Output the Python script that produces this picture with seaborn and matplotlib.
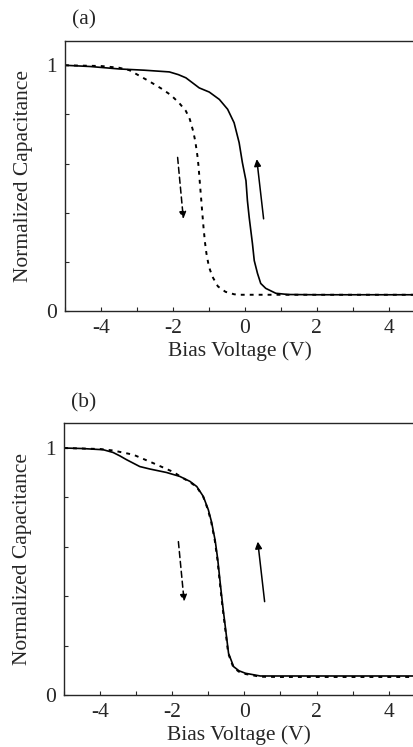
import numpy as np
import pandas as pd
import matplotlib
matplotlib.use("Agg")
import matplotlib.pyplot as plt
import seaborn as sns

# ---- data ----
a_up_v = [-5, -4.3, -3.49, -2.8, -2.10, -1.85, -1.64, -1.45, -1.27, -0.99, -0.71, -0.48, -0.30, -0.16,
          -0.07, 0.03, 0.07, 0.12, 0.21, 0.26, 0.35, 0.44, 0.58, 0.86, 1.2, 2, 3, 4, 4.7]
a_up_c = [1.0, 0.995, 0.985, 0.98, 0.973, 0.962, 0.949, 0.928, 0.908, 0.891, 0.861, 0.821, 0.766, 0.685,
          0.604, 0.53, 0.449, 0.38, 0.274, 0.205, 0.153, 0.112, 0.092, 0.072, 0.067, 0.066, 0.066, 0.066, 0.066]

a_dn_v = [-5, -4, -3.5, -3.21, -2.66, -2.33, -2.06, -1.83, -1.64, -1.53, -1.44, -1.38, -1.32, -1.29,
          -1.24, -1.19, -1.15, -1.11, -1.07, -1.0, -0.9, -0.75, -0.54, -0.3, -0.16, 0.5, 1, 2, 3, 4, 4.7]
a_dn_c = [1.0, 0.997, 0.99, 0.980, 0.935, 0.906, 0.879, 0.847, 0.814, 0.780, 0.733, 0.692, 0.632, 0.591,
          0.50, 0.41, 0.34, 0.28, 0.235, 0.18, 0.139, 0.10, 0.078, 0.068, 0.066, 0.066, 0.066, 0.066, 0.066, 0.066, 0.066]

b_up_v = [-5, -4.5, -3.91, -3.64, -3.45, -3.27, -2.9, -2.62, -2.16, -1.79, -1.51, -1.32, -1.14, -1.0,
          -0.91, -0.81, -0.74, -0.67, -0.60, -0.53, -0.44, -0.30, -0.15, 0.03, 0.44, 1, 2, 3, 4, 4.7]
b_up_c = [1.0, 0.998, 0.993, 0.982, 0.968, 0.953, 0.925, 0.915, 0.901, 0.885, 0.865, 0.844, 0.804, 0.75,
          0.70, 0.625, 0.55, 0.453, 0.36, 0.277, 0.169, 0.115, 0.098, 0.088, 0.077, 0.077, 0.077, 0.077, 0.077, 0.077]

b_dn_v = [-5, -4, -3.64, -3.08, -2.53, -1.97, -1.70, -1.51, -1.32, -1.14, -1.01,
          -0.92, -0.82, -0.75, -0.68, -0.61, -0.54, -0.45, -0.31, -0.16, 0.03, 0.44, 1, 2, 3, 4, 4.7]
b_dn_c = [1.0, 0.996, 0.99, 0.973, 0.939, 0.903, 0.878, 0.862, 0.842, 0.802, 0.75,
          0.70, 0.625, 0.55, 0.453, 0.36, 0.277, 0.169, 0.113, 0.095, 0.085, 0.074, 0.073, 0.073, 0.073, 0.073, 0.073]

# arrows: (start V, start C, end V, end C)
a_arrow_dn = [-1.87, 0.625, -1.71, 0.375]
a_arrow_up = [0.52, 0.375, 0.33, 0.618]
b_arrow_dn = [-1.83, 0.621, -1.67, 0.378]
b_arrow_up = [0.56, 0.378, 0.37, 0.621]

x_ticks = [-5, -4, -3, -2, -1, 0, 1, 2, 3, 4]
x_labels = ["", "-4", "", "-2", "", "0", "", "2", "", "4"]
y_ticks = [0, 0.2, 0.4, 0.6, 0.8, 1.0]
y_labels = ["0", "", "", "", "", "1"]

sns.set_style("ticks")
plt.rcParams['font.family'] = ['Liberation Serif', 'DejaVu Serif']
plt.rcParams['font.size'] = 15.5

fig = plt.figure(figsize=(4.14, 7.47), dpi=100)
ax_a = fig.add_axes([0.157, 0.5837, 0.843, 0.3618])
ax_b = fig.add_axes([0.1546, 0.0696, 0.8454, 0.3637])

dotted = (0, (2.0, 2.6))

def draw(ax, up_v, up_c, dn_v, dn_c, arr_dn, arr_up, tag):
    df_up = pd.DataFrame({"V": up_v, "C": up_c})
    df_dn = pd.DataFrame({"V": dn_v, "C": dn_c})
    sns.lineplot(data=df_dn, x="V", y="C", ax=ax, color="black", lw=1.4,
                 linestyle=dotted, estimator=None)
    sns.lineplot(data=df_up, x="V", y="C", ax=ax, color="black", lw=1.2,
                 estimator=None)
    ax.annotate("", xy=(arr_dn[2], arr_dn[3]), xytext=(arr_dn[0], arr_dn[1]),
                arrowprops=dict(arrowstyle="-|>", color="black", lw=1.1,
                                linestyle=(0, (4, 2.5)), mutation_scale=10,
                                shrinkA=0, shrinkB=0))
    ax.annotate("", xy=(arr_up[2], arr_up[3]), xytext=(arr_up[0], arr_up[1]),
                arrowprops=dict(arrowstyle="-|>", color="black", lw=1.1,
                                mutation_scale=10, shrinkA=0, shrinkB=0))
    ax.set_xlim(-5, 4.7)
    ax.set_ylim(0, 1.1)
    ax.set_xticks(x_ticks)
    ax.set_xticklabels(x_labels)
    ax.set_yticks(y_ticks)
    ax.set_yticklabels(y_labels)
    ax.tick_params(direction="in", length=3, width=0.8, labelsize=15.5, pad=6)
    ax.set_xlabel("Bias Voltage (V)", fontsize=15.5, labelpad=2)
    ax.set_ylabel("Normalized Capacitance", fontsize=15.5, labelpad=9)
    ax.spines["right"].set_visible(False)
    for s in ["left", "bottom", "top"]:
        ax.spines[s].set_linewidth(1.0)
    ax.text(0.02, 1.04, tag, transform=ax.transAxes, fontsize=15.5,
            ha="left", va="bottom")

draw(ax_a, a_up_v, a_up_c, a_dn_v, a_dn_c, a_arrow_dn, a_arrow_up, "(a)")
draw(ax_b, b_up_v, b_up_c, b_dn_v, b_dn_c, b_arrow_dn, b_arrow_up, "(b)")

fig.savefig("out.png", dpi=100)
